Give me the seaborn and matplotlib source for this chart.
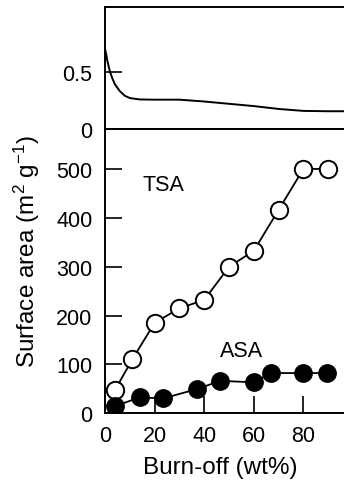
import matplotlib
matplotlib.use("Agg")
import matplotlib.pyplot as plt
import seaborn as sns
import pandas as pd

# ---- data ----
curve_x = [0, 0.5, 1, 2, 3, 4, 5, 6, 8, 10, 14, 20, 30, 40, 50, 60, 70, 80, 90, 100]
curve_y = [0.70, 0.65, 0.59, 0.50, 0.44, 0.39, 0.36, 0.33, 0.29, 0.27, 0.258, 0.256,
           0.256, 0.24, 0.22, 0.20, 0.175, 0.158, 0.155, 0.155]

tsa_x = [4, 11, 20, 30, 40, 50, 60, 70, 80, 90]
tsa_y = [47, 110, 185, 215, 232, 300, 333, 417, 501, 501]

asa_x = [4, 14, 23.5, 37, 46.5, 60, 67, 80, 89.5]
asa_y = [14, 32, 30, 49, 66, 63, 82, 82, 82]

x_ticks = [0, 20, 40, 60, 80]
y_ticks = [0, 100, 200, 300, 400, 500]
top_ticks = [0, 0.5]
top_tick_labels = ["0", "0.5"]

sns.set_style("ticks")
plt.rcParams['font.family'] = ['Liberation Sans', 'DejaVu Sans']
plt.rcParams['mathtext.fontset'] = 'custom'
plt.rcParams['mathtext.rm'] = 'Liberation Sans'
plt.rcParams['mathtext.it'] = 'Liberation Sans'
plt.rcParams['text.color'] = 'black'
plt.rcParams['xtick.color'] = 'black'
plt.rcParams['ytick.color'] = 'black'
plt.rcParams['axes.edgecolor'] = 'black'

W, H = 344, 481
fig = plt.figure(figsize=(W / 100, H / 100), dpi=100)

left = 105 / W
width = 248 / W
ax_top = fig.add_axes([left, 1 - 130 / H, width, (130 - 8) / H])
ax = fig.add_axes([left, 1 - 414 / H, width, (414 - 130) / H])

fs_tick = 15.5
fs_lab = 17.5
fs_txt = 15.5
lw_spine = 1.4

# top panel
sns.lineplot(x=curve_x, y=curve_y, ax=ax_top, color="black", linewidth=1.4)
ax_top.set_xlim(0, 100)
ax_top.set_ylim(0, 1.065)
ax_top.set_xticks([])
ax_top.set_yticks(top_ticks)
ax_top.set_yticklabels(top_tick_labels, fontsize=fs_tick)
ax_top.tick_params(axis="y", direction="in", length=12, width=1.2, pad=9, colors="black")
ax_top.spines["right"].set_visible(False)
for s in ax_top.spines.values():
    s.set_linewidth(lw_spine)
ax_top.set_xlabel("")
ax_top.set_ylabel("")

# bottom panel
df_tsa = pd.DataFrame({"x": tsa_x, "y": tsa_y})
df_asa = pd.DataFrame({"x": asa_x, "y": asa_y})
sns.lineplot(data=df_tsa, x="x", y="y", ax=ax, color="black", linewidth=1.3,
             marker="o", markersize=12.5, markerfacecolor="white",
             markeredgecolor="black", markeredgewidth=1.4)
sns.lineplot(data=df_asa, x="x", y="y", ax=ax, color="black", linewidth=1.3,
             marker="o", markersize=12.5, markerfacecolor="black",
             markeredgecolor="black", markeredgewidth=1.0)
ax.set_xlim(0, 100)
ax.set_ylim(0, 583)
ax.set_xticks(x_ticks)
ax.set_xticklabels([str(t) for t in x_ticks], fontsize=fs_tick)
ax.set_yticks(y_ticks)
ax.set_yticklabels([str(t) for t in y_ticks], fontsize=fs_tick)
ax.tick_params(axis="both", direction="in", length=12, width=1.2, pad=9, colors="black")
ax.spines["right"].set_visible(False)
for s in ax.spines.values():
    s.set_linewidth(lw_spine)
ax.set_xlabel("")
ax.set_ylabel("")

ax.text(23.6, 469, "TSA", fontsize=fs_txt, ha="center", va="center")
ax.text(55, 129, "ASA", fontsize=fs_txt, ha="center", va="center")

fig.text(27 / W, 1 - 251 / H, r"Surface area (m$^2$ g$^{-1}$)", fontsize=fs_lab,
         rotation=90, ha="center", va="center")
fig.text(220 / W, 1 - 468 / H, "Burn-off (wt%)", fontsize=fs_lab,
         ha="center", va="center")

fig.savefig("out.png", dpi=100)
